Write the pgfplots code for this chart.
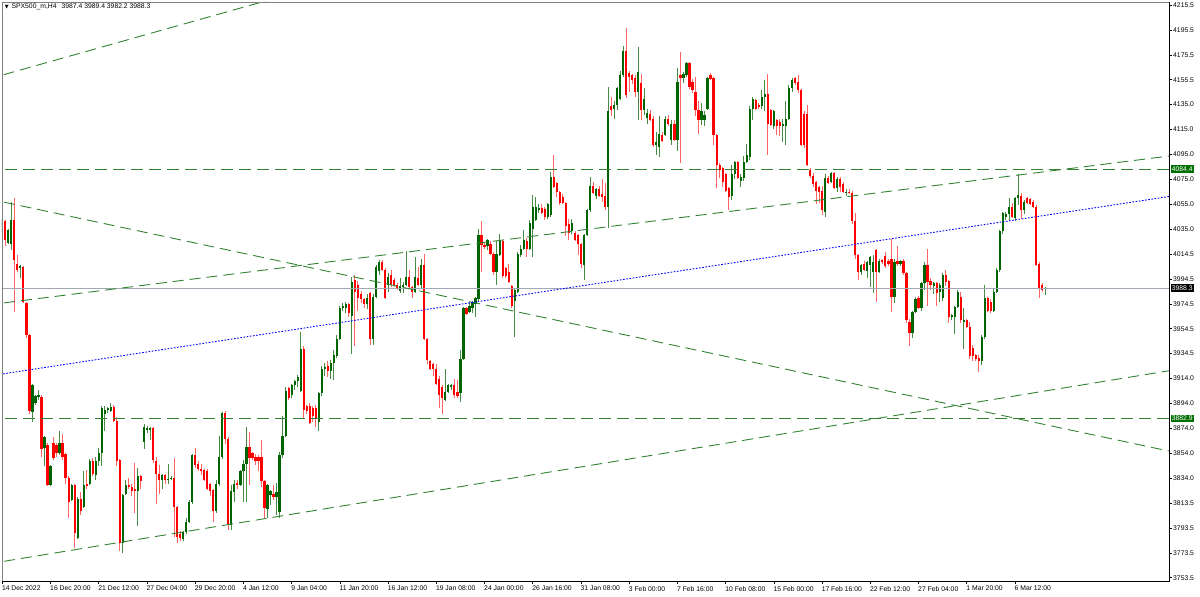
\documentclass[border=0pt]{standalone}
\usepackage{pgfplots}
\pgfplotsset{compat=1.18}
\usepackage{pgfplotstable}
\usepackage{fontspec}
\setmainfont{Liberation Sans}
\newfontfamily\symfont{DejaVu Sans}
\newcommand\tickfont{\fontsize{6.8}{8}\selectfont}

\definecolor{bullbody}{RGB}{0,100,0}
\definecolor{bullwick}{RGB}{70,140,70}
\definecolor{bearbody}{RGB}{255,0,0}
\definecolor{bearwick}{RGB}{255,100,100}
\definecolor{objgreen}{RGB}{50,130,50}
\definecolor{bidgray}{RGB}{160,168,180}
\definecolor{lblgreen}{RGB}{0,110,0}

% SPX500_m H4 candles: bar index, open, high, low, close
\pgfplotstableread{
i o h l c
0 4033 4045 4032 4044
1 4042 4043 4022 4027
2 4025 4036 4024 4035
3 4024 4058 4019 4043
4 4043 4061 3969 4011
5 4008 4015 4001 4003
6 4004 4007 3996 4006
7 4005 4006 3976 3977
8 3976 3977 3948 3950
9 3950 3951 3886 3889
10 3888 3911 3880 3910
11 3895 3902 3894 3901
12 3900 3906 3898 3902
13 3900 3902 3852 3858
14 3859 3869 3844 3868
15 3861 3863 3828 3829
16 3829 3845 3828 3844
17 3863 3868 3849 3851
18 3861 3863 3852 3855
19 3855 3873 3853 3863
20 3863 3870 3849 3852
21 3854 3855 3830 3835
22 3835 3836 3802 3815
23 3817 3830 3816 3829
24 3829 3830 3778 3790
25 3786 3819 3785 3818
26 3818 3823 3805 3808
27 3811 3840 3810 3829
28 3830 3841 3826 3828
29 3830 3850 3829 3848
30 3848 3851 3836 3838
31 3837 3852 3833 3848
32 3848 3859 3844 3855
33 3855 3893 3844 3891
34 3886 3893 3873 3890
35 3890 3892 3887 3891
36 3889 3895 3888 3892
37 3892 3894 3880 3881
38 3881 3884 3844 3848
39 3849 3850 3776 3782
40 3782 3822 3774 3821
41 3822 3833 3821 3829
42 3829 3835 3826 3827
43 3827 3830 3820 3824
44 3826 3847 3806 3824
45 3824 3843 3796 3836
46 3836 3837 3826 3832
47 3864 3878 3858 3876
48 3874 3877 3871 3875
49 3874 3876 3865 3875
50 3875 3876 3847 3849
51 3848 3852 3814 3838
52 3838 3845 3822 3833
53 3833 3838 3826 3837
54 3837 3838 3830 3833
55 3833 3846 3830 3834
56 3834 3836 3833 3835
57 3835 3851 3787 3811
58 3811 3812 3782 3787
59 3789 3792 3784 3786
60 3785 3792 3784 3791
61 3791 3802 3789 3799
62 3799 3817 3798 3815
63 3815 3854 3814 3853
64 3853 3859 3843 3845
65 3846 3848 3840 3842
66 3842 3846 3837 3840
67 3841 3842 3832 3833
68 3840 3842 3825 3826
69 3830 3831 3820 3824
70 3825 3826 3799 3808
71 3808 3833 3806 3830
72 3830 3869 3828 3852
73 3852 3888 3850 3887
74 3887 3889 3862 3866
75 3866 3868 3793 3797
76 3797 3829 3793 3824
77 3823 3833 3815 3830
78 3831 3833 3826 3829
79 3829 3841 3828 3840
80 3840 3849 3815 3846
81 3846 3876 3815 3860
82 3860 3872 3829 3851
83 3855 3856 3849 3851
84 3852 3854 3845 3848
85 3852 3853 3840 3848
86 3852 3865 3827 3832
87 3832 3833 3802 3810
88 3810 3830 3802 3829
89 3821 3825 3813 3824
90 3822 3829 3817 3819
91 3819 3831 3805 3823
92 3807 3856 3802 3853
93 3853 3885 3851 3869
94 3869 3908 3868 3905
95 3907 3908 3898 3899
96 3902 3911 3899 3910
97 3910 3914 3906 3913
98 3913 3918 3908 3916
99 3905 3953 3904 3939
100 3939 3941 3883 3890
101 3893 3894 3886 3889
102 3893 3895 3878 3879
103 3891 3893 3880 3885
104 3891 3894 3876 3882
105 3880 3904 3873 3903
106 3903 3925 3901 3923
107 3923 3928 3917 3924
108 3925 3929 3916 3921
109 3921 3930 3915 3928
110 3928 3938 3914 3934
111 3933 3950 3932 3947
112 3947 3974 3946 3972
113 3972 3976 3970 3974
114 3972 3977 3968 3975
115 3975 3976 3965 3968
116 3966 3997 3935 3993
117 3995 3999 3941 3985
118 3991 3994 3970 3980
119 3983 3986 3976 3979
120 3979 3980 3972 3975
121 3975 3983 3971 3980
122 3984 3985 3942 3947
123 3947 3983 3942 3981
124 3981 4007 3980 4005
125 4002 4011 3999 4009
126 4009 4011 4002 4003
127 4003 4004 3979 3980
128 3991 4000 3985 3997
129 3999 4003 3989 3991
130 3995 3996 3989 3991
131 3991 3992 3987 3988
132 3986 3996 3984 3990
133 3989 3993 3984 3991
134 3991 4018 3990 3997
135 3997 4003 3988 3989
136 3989 3990 3980 3985
137 3985 4013 3984 3997
138 3996 4005 3990 3991
139 3991 4012 3988 4007
140 4007 4016 3946 3947
141 3947 3948 3927 3930
142 3929 3930 3922 3923
143 3927 3928 3917 3923
144 3923 3927 3910 3911
145 3915 3917 3891 3902
146 3908 3910 3886 3899
147 3898 3923 3897 3904
148 3904 3911 3903 3910
149 3908 3911 3906 3910
150 3910 3915 3899 3902
151 3904 3914 3899 3901
152 3903 3938 3896 3931
153 3931 3973 3930 3972
154 3972 3973 3966 3967
155 3969 3977 3968 3974
156 3972 3978 3968 3977
157 3975 3981 3965 3980
158 3979 4036 3977 4031
159 4031 4042 4001 4023
160 4023 4025 4020 4021
161 4022 4028 4019 4027
162 4024 4026 4015 4016
163 4016 4017 3999 4001
164 4001 4026 3991 4016
165 4015 4032 4014 4026
166 4026 4027 3996 3998
167 4004 4005 3996 3998
168 4001 4008 3992 3993
169 3990 3991 3972 3974
170 3978 3988 3949 3987
171 3985 4017 3984 4016
172 4015 4023 4013 4020
173 4020 4035 4019 4027
174 4026 4029 4013 4020
175 4020 4043 4019 4041
176 4036 4063 4013 4054
177 4043 4062 4042 4054
178 4051 4056 4049 4053
179 4053 4056 4048 4049
180 4052 4054 4043 4046
181 4046 4057 4044 4056
182 4047 4082 4046 4078
183 4078 4096 4069 4070
184 4073 4074 4062 4066
185 4066 4067 4055 4057
186 4062 4064 4056 4057
187 4057 4058 4030 4038
188 4040 4044 4027 4033
189 4034 4044 4032 4041
190 4033 4034 4026 4027
191 4031 4032 4015 4024
192 4024 4025 4004 4008
193 4007 4032 3995 4031
194 4031 4052 4030 4051
195 4051 4078 4050 4071
196 4071 4074 4064 4065
197 4063 4069 4060 4068
198 4068 4071 4062 4063
199 4064 4076 4058 4062
200 4063 4073 4051 4054
201 4054 4151 4037 4131
202 4135 4143 4127 4132
203 4133 4139 4125 4136
204 4136 4151 4132 4150
205 4141 4164 4140 4160
206 4160 4184 4159 4180
207 4180 4198 4142 4144
208 4162 4164 4147 4159
209 4160 4161 4153 4156
210 4158 4160 4143 4147
211 4147 4183 4124 4163
212 4154 4161 4124 4132
213 4132 4150 4128 4141
214 4126 4133 4121 4130
215 4129 4132 4123 4124
216 4125 4127 4102 4104
217 4104 4114 4096 4106
218 4102 4127 4094 4113
219 4112 4114 4106 4107
220 4112 4127 4111 4125
221 4125 4128 4119 4121
222 4108 4124 4104 4121
223 4121 4124 4107 4108
224 4108 4166 4099 4155
225 4160 4179 4089 4158
226 4158 4163 4154 4161
227 4160 4171 4159 4170
228 4170 4171 4149 4151
229 4155 4157 4146 4148
230 4147 4159 4127 4132
231 4132 4139 4113 4124
232 4124 4138 4120 4131
233 4124 4131 4119 4128
234 4133 4159 4132 4158
235 4160 4162 4156 4157
236 4158 4159 4104 4112
237 4112 4113 4069 4088
238 4088 4089 4077 4084
239 4085 4086 4070 4074
240 4080 4081 4066 4067
241 4069 4070 4051 4062
242 4063 4088 4059 4080
243 4080 4091 4076 4090
244 4090 4091 4076 4077
245 4075 4080 4070 4078
246 4077 4095 4075 4090
247 4090 4105 4089 4096
248 4094 4135 4092 4133
249 4133 4143 4124 4141
250 4140 4141 4132 4133
251 4136 4138 4133 4135
252 4135 4148 4133 4143
253 4143 4156 4131 4145
254 4145 4161 4096 4121
255 4132 4133 4119 4120
256 4119 4132 4117 4131
257 4124 4125 4112 4119
258 4122 4125 4111 4119
259 4119 4125 4106 4121
260 4119 4139 4104 4125
261 4125 4152 4124 4150
262 4150 4158 4147 4156
263 4158 4159 4152 4154
264 4155 4160 4146 4148
265 4148 4149 4103 4104
266 4129 4131 4101 4104
267 4129 4136 4087 4088
268 4084 4085 4077 4079
269 4079 4081 4070 4072
270 4074 4075 4056 4067
271 4070 4071 4057 4066
272 4067 4071 4047 4051
273 4050 4080 4046 4077
274 4077 4079 4072 4073
275 4074 4082 4073 4081
276 4081 4082 4068 4069
277 4069 4078 4066 4076
278 4076 4078 4066 4070
279 4072 4074 4065 4066
280 4065 4068 4063 4066
281 4066 4068 4064 4065
282 4065 4067 4040 4042
283 4042 4049 4012 4015
284 4015 4016 3995 4001
285 4001 4008 3999 4007
286 4008 4010 4002 4003
287 4002 4010 3996 4009
288 4007 4014 3989 4013
289 4001 4015 3984 4009
290 4019 4020 3977 4001
291 4001 4012 4000 4010
292 4011 4012 4008 4009
293 4014 4017 4004 4006
294 4010 4012 4006 4008
295 4012 4028 3969 3981
296 3981 4012 3976 4009
297 4010 4022 4006 4008
298 4008 4011 4006 4010
299 4010 4012 3999 4000
300 4000 4001 3960 3962
301 3961 3963 3941 3952
302 3952 3970 3948 3969
303 3969 3981 3968 3979
304 3980 3982 3971 3972
305 3972 3993 3970 3992
306 3992 4009 3987 4007
307 4007 4020 3974 3993
308 3994 3996 3987 3991
309 3990 3993 3983 3992
310 3992 3993 3974 3984
311 3985 3992 3977 3991
312 3980 4000 3978 3999
313 3999 4003 3990 3993
314 3994 3995 3960 3965
315 3965 3967 3962 3966
316 3965 3974 3951 3973
317 3973 3987 3972 3985
318 3981 3985 3960 3962
319 3961 3972 3939 3962
320 3962 3963 3956 3957
321 3957 3961 3931 3933
322 3940 3942 3929 3933
323 3934 3935 3929 3931
324 3932 3934 3920 3929
325 3929 3950 3926 3949
326 3949 3991 3947 3980
327 3980 3981 3969 3970
328 3977 3979 3968 3970
329 3970 3988 3969 3985
330 3985 4004 3984 4003
331 4003 4035 4001 4034
332 4034 4050 4032 4049
333 4046 4050 4043 4048
334 4048 4061 4043 4054
335 4054 4057 4045 4046
336 4045 4062 4042 4061
337 4061 4080 4055 4063
338 4063 4065 4044 4051
339 4051 4059 4048 4058
340 4061 4062 4056 4057
341 4060 4061 4055 4056
342 4058 4059 4053 4054
343 4054 4055 4006 4007
344 4008 4009 3980 3988
345 3991 3992 3985 3987
346 3987.4 3989.4 3982.2 3988.3
}\candles

\pgfplotsset{
  bull/.style={restrict expr to domain={\thisrow{c}-\thisrow{o}}{0:1000}},
  bear/.style={restrict expr to domain={\thisrow{c}-\thisrow{o}}{-1000:-0.01}},
  candle/.style={draw=none, mark=none, forget plot, #1,
    error bars/.cd, y dir=both, y explicit, error mark=none},
  objline/.style={objgreen, line width=0.9pt, dash pattern=on 11pt off 6pt, forget plot},
}

\begin{document}
\begin{tikzpicture}
\useasboundingbox (0,0) rectangle (1200pt,597pt);
\begin{axis}[
  at={(2pt,16pt)}, anchor=south west,
  width=1167pt, height=579pt, scale only axis,
  xmin=-0.1, xmax=387.1, ymin=3751.4, ymax=4219.4,
  axis line style={draw=black, line width=0.8pt},
  tick align=outside, major tick length=3pt,
  tick style={black, line width=0.6pt},
  xtick pos=bottom, ytick pos=right, yticklabel pos=right,
  xtick={0,16,...,336},
  xticklabels={14 Dec 2022,16 Dec 20:00,21 Dec 12:00,27 Dec 04:00,29 Dec 20:00,4 Jan 12:00,9 Jan 04:00,11 Jan 20:00,16 Jan 12:00,19 Jan 08:00,24 Jan 00:00,26 Jan 16:00,31 Jan 08:00,3 Feb 00:00,7 Feb 16:00,10 Feb 08:00,15 Feb 00:00,17 Feb 16:00,22 Feb 12:00,27 Feb 04:00,1 Mar 20:00,6 Mar 12:00},
  ytick={3754.04,3774.17,3794.29,3814.42,3834.55,3854.68,3874.80,3894.93,3915.06,3935.18,3955.31,3975.44,3995.56,4015.69,4035.82,4055.95,4076.07,4096.20,4116.33,4136.45,4156.58,4176.71,4196.83,4216.96},
  yticklabels={3753.5,3773.5,3793.5,3813.5,3834.0,3854.0,3874.0,3894.0,3914.0,3934.5,3954.5,3974.5,3994.5,4014.5,4035.0,4055.0,4075.0,4095.0,4115.0,4135.0,4155.5,4175.5,4195.5,4215.5},
  xticklabel style={anchor=north west, inner sep=0pt, xshift=-0.5pt, yshift=-2pt, font=\tickfont},
  yticklabel style={anchor=west, inner sep=0pt, xshift=1pt, font=\tickfont},
  clip mode=individual,
]
% wicks
\addplot[candle=bull, error bar style={line width=0.9pt, bullwick}]
  table[x=i, y expr={(\thisrow{h}+\thisrow{l})/2}, y error expr={(\thisrow{h}-\thisrow{l})/2}] {\candles};
\addplot[candle=bear, error bar style={line width=0.9pt, bearwick}]
  table[x=i, y expr={(\thisrow{h}+\thisrow{l})/2}, y error expr={(\thisrow{h}-\thisrow{l})/2}] {\candles};
% bodies
\addplot[candle=bull, error bar style={line width=2.2pt, bullbody}]
  table[x=i, y expr={(\thisrow{o}+\thisrow{c})/2}, y error expr={max(abs(\thisrow{c}-\thisrow{o})/2,0.45)}] {\candles};
\addplot[candle=bear, error bar style={line width=2.2pt, bearbody}]
  table[x=i, y expr={(\thisrow{o}+\thisrow{c})/2}, y error expr={max(abs(\thisrow{c}-\thisrow{o})/2,0.45)}] {\candles};

% objects on the chart
\addplot[bidgray, line width=0.8pt, forget plot] coordinates {(-5,3988.3) (395,3988.3)};
\addplot[objline, dash pattern=on 12pt off 6pt] coordinates {(-5,4084.4) (395,4084.4)};
\addplot[objline, dash pattern=on 12pt off 6pt] coordinates {(-5,3882.9) (395,3882.9)};
\addplot[objline] coordinates {(-5,4156.9) (100,4228.9)};
\addplot[objline] coordinates {(-5,3974.5) (395,4097.3)};
\addplot[objline] coordinates {(-5,3765.1) (395,3924.5)};
\addplot[objline] coordinates {(-5,4060.5) (395,3852.3)};
\addplot[blue, line width=0.9pt, dash pattern=on 1.6pt off 1.6pt, forget plot] coordinates {(-5,3916.9) (395,4065.1)};

% header and price labels
\node[anchor=west, inner sep=0pt, font=\tickfont] at (axis description cs:0.0022,0.9914)
  {{\symfont\fontsize{5}{5}\selectfont ▼}\hspace{3pt}SPX500\_m,H4\hspace{5pt}3987.4 3989.4 3982.2 3988.3};
\node[anchor=west, fill=lblgreen, text=white, inner xsep=1.2pt, inner ysep=1.2pt, text height=4.9pt, text depth=0pt, font=\tickfont, xshift=1.5pt] at (axis cs:387.1,4084.4) {4084.4};
\node[anchor=west, fill=lblgreen, text=white, inner xsep=1.2pt, inner ysep=1.2pt, text height=4.9pt, text depth=0pt, font=\tickfont, xshift=1.5pt] at (axis cs:387.1,3882.9) {3882.9};
\node[anchor=west, fill=black, text=white, inner xsep=1.2pt, inner ysep=1.2pt, text height=4.9pt, text depth=0pt, font=\tickfont, xshift=1.5pt] at (axis cs:387.1,3988.3) {3988.3};
\draw[gray, line width=0.8pt] (rel axis cs:0,0) -- (rel axis cs:0,1) -- (rel axis cs:1,1);
\end{axis}
\end{tikzpicture}
\end{document}
